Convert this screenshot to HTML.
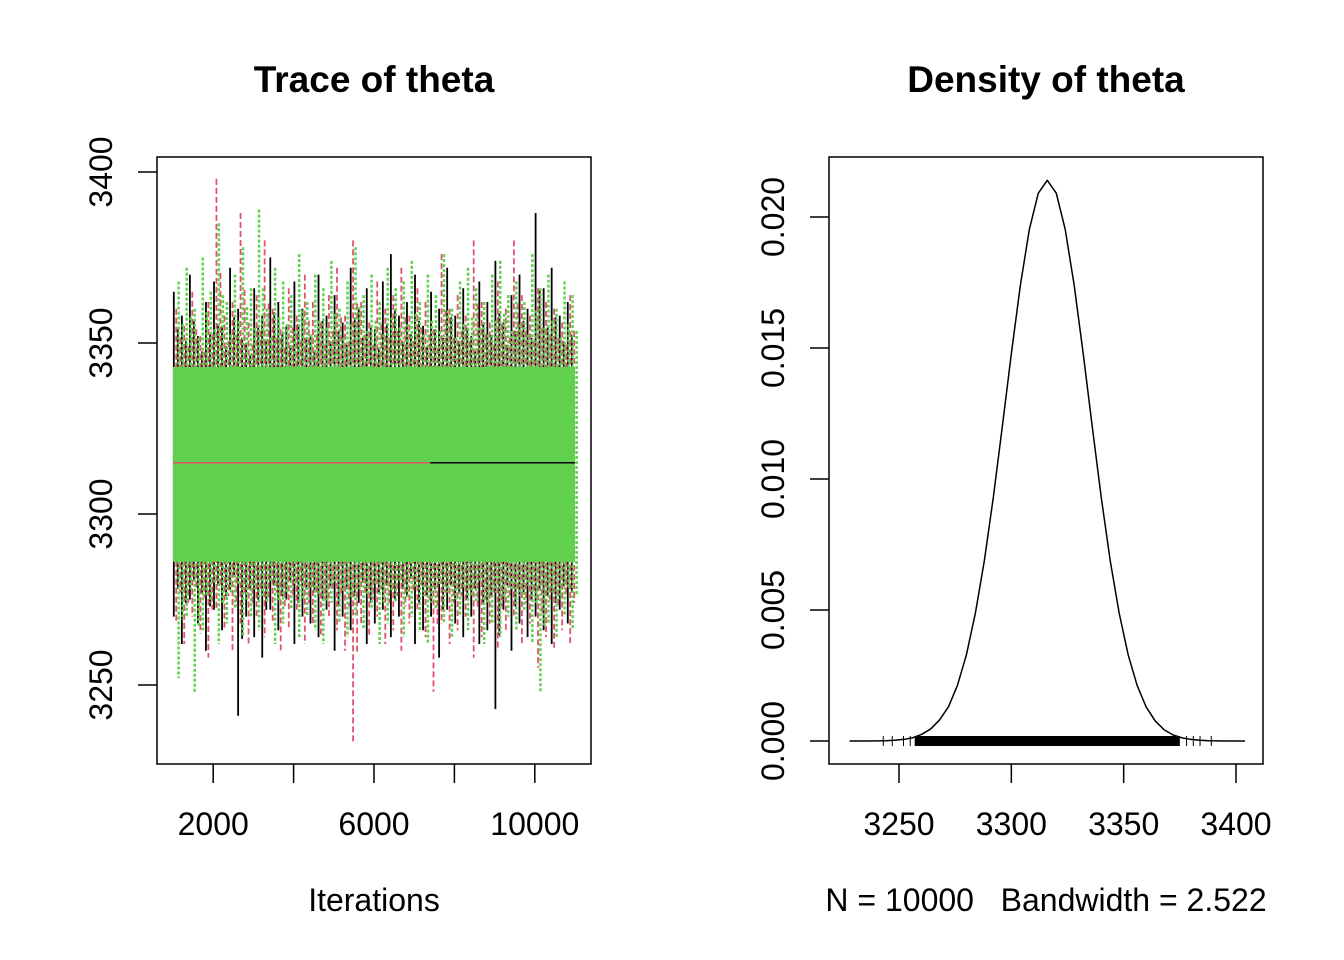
<!DOCTYPE html>
<html><head><meta charset="utf-8"><style>
html,body{margin:0;padding:0;background:#fff}
svg{display:block;font-family:"Liberation Sans",Arial,sans-serif}
</style></head><body>
<svg id="s" width="1344" height="960" viewBox="0 0 1344 960">
<rect width="1344" height="960" fill="#fff"/>
<g id="trace"></g>
<g id="dens"></g>
</svg>
<script>
// ---- Trace data ----
const traceXTicks=[2000,4000,6000,8000,10000];
const traceXLabels=["2000","","6000","","10000"];
const traceYTicks=[3250,3300,3350,3400];
const iterStart=1000, iterEnd=11000;
const blackHi=[3365,3358,3370,3352,3362,3368,3355,3372,3360,3350,3366,3358,3375,3362,3355,3368,3360,3352,3370,3358,3364,3356,3372,3360,3366,3354,3368,3376,3358,3362,3370,3355,3365,3360,3372,3358,3366,3352,3368,3362,3374,3356,3364,3370,3360,3388,3366,3372,3358,3362];
const blackLo=[3270,3262,3275,3268,3260,3272,3266,3278,3241,3270,3264,3258,3272,3266,3275,3262,3270,3268,3264,3272,3260,3270,3266,3274,3262,3268,3272,3264,3270,3276,3262,3266,3270,3258,3272,3268,3264,3270,3262,3266,3243,3272,3260,3268,3264,3270,3266,3262,3272,3268];
const redHi=[3360,3355,3365,3352,3362,3398,3358,3362,3388,3356,3364,3380,3360,3354,3366,3358,3370,3362,3356,3364,3372,3358,3380,3362,3356,3368,3360,3364,3372,3358,3366,3362,3354,3376,3360,3364,3358,3380,3362,3356,3368,3360,3380,3364,3358,3366,3362,3360,3356,3364];
const redLo=[3268,3262,3270,3265,3258,3272,3266,3260,3268,3262,3270,3264,3268,3260,3266,3272,3262,3268,3264,3270,3266,3260,3233,3268,3264,3270,3262,3266,3260,3268,3272,3264,3248,3268,3262,3266,3270,3258,3264,3268,3260,3266,3270,3262,3268,3255,3264,3260,3266,3262];
const greenHi=[3368,3372,3360,3375,3365,3385,3362,3370,3378,3366,3389,3360,3372,3368,3364,3376,3362,3370,3366,3374,3360,3368,3378,3364,3370,3362,3372,3366,3368,3374,3362,3370,3364,3376,3360,3368,3372,3366,3362,3370,3374,3364,3368,3362,3376,3366,3370,3360,3368,3364];
const greenLo=[3252,3270,3248,3266,3274,3262,3268,3272,3264,3270,3266,3274,3262,3268,3272,3264,3270,3266,3262,3274,3268,3264,3270,3266,3272,3262,3268,3274,3264,3270,3266,3262,3272,3268,3264,3270,3266,3274,3262,3268,3264,3270,3266,3272,3262,3248,3268,3264,3270,3266];
const coreLo=3286, coreHi=3343, chainMean=3315;
// ---- Density data ----
const densX=[3228,3232,3236,3240,3244,3248,3252,3256,3260,3264,3268,3272,3276,3280,3284,3288,3292,3296,3300,3304,3308,3312,3316,3320,3324,3328,3332,3336,3340,3344,3348,3352,3356,3360,3364,3368,3372,3376,3380,3384,3388,3392,3396,3400,3404];
const densY=[0,0,0.000002,0.000005,0.00001,0.00003,0.00006,0.00012,0.00025,0.00045,0.0008,0.0013,0.00212,0.00329,0.00488,0.00689,0.00931,0.01201,0.01478,0.01738,0.01952,0.02091,0.0214,0.02091,0.01952,0.01738,0.01478,0.01201,0.00931,0.00689,0.00488,0.00329,0.00212,0.0013,0.00077,0.00043,0.00023,0.00012,0.00006,0.00003,0.00001,0.000005,0.000002,0,0];
const rugSparse=[3243,3247,3252,3255,3378,3381,3384,3389];
const rugLo=3257, rugHi=3375;
const densXTicks=[3250,3300,3350,3400];
const densYTicks=[0,0.005,0.010,0.015,0.020];
const densYLabels=["0.000","0.005","0.010","0.015","0.020"];

const NS="http://www.w3.org/2000/svg";
function mk(p,t,a){const e=document.createElementNS(NS,t);for(const k in a)e.setAttribute(k,a[k]);p.appendChild(e);return e;}
function txt(p,x,y,s,size,extra){const e=mk(p,'text',Object.assign({x:x,y:y,'font-size':size,'text-anchor':'middle',fill:'#000'},extra||{}));e.textContent=s;return e;}

// Trace panel
const T=document.getElementById('trace');
const tx=v=>173+(v-iterStart)*(402/(iterEnd-iterStart));
const ty=v=>514-(v-3300)*(343-514)/-50;
let e;
e=txt(T,374,92,"Trace of theta",37,{'font-weight':'bold'});


e=mk(T,'rect',{x:157,y:157,width:434,height:607,fill:'none',stroke:'#000','stroke-width':1.5});


function chain(hi,lo,col,off,dash,name,w){
  const g=mk(T,'g',{stroke:col,'stroke-width':w,fill:'none','stroke-dasharray':dash});
  
  
  const n=hi.length;
  for(let i=0;i<n;i++){
    const it=iterStart+(iterEnd-iterStart)*(i+off)/n;
    const x=tx(it);
    mk(g,'line',{x1:x,x2:x,y1:ty(hi[i]),y2:ty(lo[i])});
    const it2=iterStart+(iterEnd-iterStart)*(i+off+0.5)/n;
    mk(g,'line',{x1:tx(it2),x2:tx(it2),y1:ty((hi[i]+coreHi)/2),y2:ty((lo[i]+coreLo)/2)});
  }
}
chain(blackHi,blackLo,'#000',0.1,'none','black-chain',1.8);
chain(redHi,redLo,'#DF536B',0.4,'6,3','red-chain',1.8);
e=mk(T,'rect',{x:tx(iterStart),y:ty(coreHi),width:tx(iterEnd)-tx(iterStart),height:ty(coreLo)-ty(coreHi),fill:'#61D04F'});


chain(greenHi,greenLo,'#61D04F',0.7,'3,2','green-chain',2.5);
e=mk(T,'line',{x1:tx(iterStart),x2:tx(7400),y1:ty(chainMean),y2:ty(chainMean),stroke:'#DF536B','stroke-width':1.5});


e=mk(T,'line',{x1:tx(7400),x2:tx(iterEnd),y1:ty(chainMean),y2:ty(chainMean),stroke:'#000','stroke-width':1.5});


traceXTicks.forEach((v,i)=>{
  const x=tx(v);
  let l=mk(T,'line',{x1:x,x2:x,y1:764,y2:783,stroke:'#000','stroke-width':1.5});
  
  
  if(traceXLabels[i]){let t=txt(T,x,835,traceXLabels[i],32);
  
  }
});
traceYTicks.forEach(v=>{
  const y=ty(v);
  let l=mk(T,'line',{x1:138,x2:157,y1:y,y2:y,stroke:'#000','stroke-width':1.5});
  
  
  let t=txt(T,0,0,String(v),32,{transform:`translate(112,${y}) rotate(-90)`});
  
  
});
e=txt(T,374,911,"Iterations",32);



// Density panel
const D=document.getElementById('dens');
const dx=v=>899+(v-3250)*(1236-899)/150;
const dy=v=>741-v*26200;
e=txt(D,1046,92,"Density of theta",37,{'font-weight':'bold'});


e=mk(D,'rect',{x:829,y:157,width:434,height:607,fill:'none',stroke:'#000','stroke-width':1.5});


e=mk(D,'polyline',{points:densX.map((v,i)=>dx(v)+','+dy(densY[i])).join(' '),fill:'none',stroke:'#000','stroke-width':1.5,'stroke-linejoin':'round'});


e=mk(D,'rect',{x:dx(rugLo),y:736,width:dx(rugHi)-dx(rugLo),height:10,fill:'#000'});


rugSparse.forEach(v=>{
  let l=mk(D,'line',{x1:dx(v),x2:dx(v),y1:736,y2:746,stroke:'#000','stroke-width':1});
  
  
});
densXTicks.forEach(v=>{
  const x=dx(v);
  let l=mk(D,'line',{x1:x,x2:x,y1:764,y2:783,stroke:'#000','stroke-width':1.5});
  
  
  let t=txt(D,x,835,String(v),32);
  
  
});
densYTicks.forEach((v,i)=>{
  const y=dy(v);
  let l=mk(D,'line',{x1:810,x2:829,y1:y,y2:y,stroke:'#000','stroke-width':1.5});
  
  
  let t=txt(D,0,0,densYLabels[i],32,{transform:`translate(784,${y}) rotate(-90)`});
  
  
});
e=txt(D,1046,911,"N = 10000\u00a0\u00a0\u00a0Bandwidth = 2.522",32);


</script>
</body></html>
